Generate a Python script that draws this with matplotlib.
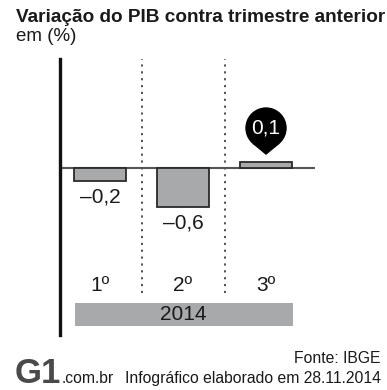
import matplotlib
matplotlib.use("Agg")
import matplotlib.pyplot as plt
from matplotlib.patches import Rectangle, Circle, Polygon
from matplotlib.transforms import ScaledTranslation

plt.rcParams['font.family'] = ['Liberation Sans', 'DejaVu Sans']

quarters = ["1º", "2º", "3º"]
pib = [-0.2, -0.6, 0.1]
labels = ["–0,2", "–0,6", "0,1"]
year = "2014"

W, H = 387, 390
fig = plt.figure(figsize=(W / 100, H / 100), dpi=100)

# chart area in pixels: x 60..315, y 59..335
ax = fig.add_axes([60 / W, 1 - 335 / H, 255 / W, 276 / H])
ax.set_xlim(-0.482, 2.59)
ax.set_ylim(-2.569, 1.677)
ax.set_xticks([])
ax.set_yticks([])
for s in ["top", "right", "bottom"]:
    ax.spines[s].set_visible(False)
ax.spines["left"].set_linewidth(2.4)
ax.spines["left"].set_color("#111111")

x = list(range(len(pib)))
ax.bar(x, pib, width=0.627, color="#a8a9ab", edgecolor="#2a2a2a",
       linewidth=1.3, zorder=3)
ax.axhline(0, color="#555555", lw=1.5, zorder=2)

# dotted separators
ax.vlines([0.5, 1.5], -1.92, 1.677, colors="#444444", lw=1.3,
          linestyles=(0, (1.2, 2.6)), zorder=1)

# value labels below negative bars
for i, v in enumerate(pib):
    if v < 0:
        ax.annotate(labels[i], (i, v), xytext=(0, -5), textcoords="offset points",
                    ha="center", va="top", fontsize=15, color="#1a1a1a")

# pin marker for the positive value
for i, v in enumerate(pib):
    if v > 0:
        tr = fig.dpi_scale_trans + ScaledTranslation(i, 0.615, ax.transData)
        ax.add_patch(Circle((0, 0), 0.2, transform=tr, color="black", zorder=5,
                            clip_on=False))
        ax.add_patch(Polygon([(-0.128, -0.154), (0.128, -0.154), (0, -0.26)],
                             closed=True, transform=tr, color="black", zorder=5,
                             clip_on=False))
        ax.annotate(labels[i], (i, 0.615), ha="center", va="center",
                    fontsize=15, color="white", zorder=6)

# quarter labels
for i, q in enumerate(quarters):
    ax.text(i, -1.8, q, ha="center", va="center", fontsize=15, color="#1a1a1a")

# year band
ax.add_patch(Rectangle((-0.301, -2.43), 2.626, 0.353, color="#a8a9ab", lw=0,
                       zorder=2))
ax.text(1, -2.253, year, ha="center", va="center", fontsize=15, color="#1a1a1a",
        zorder=3)

# titles
fig.text(16 / W, 1 - 22 / H, "Variação do PIB contra trimestre anterior",
         fontsize=13.7, fontweight="bold", color="#1a1a1a", va="baseline")
fig.text(16 / W, 1 - 41 / H, "em (%)", fontsize=13.5, color="#1a1a1a",
         va="baseline")

# footer
fig.text(381 / W, 1 - 363 / H, "Fonte: IBGE", fontsize=11.3, ha="right",
         va="baseline", color="#1a1a1a")
fig.text(381 / W, 1 - 383 / H, "Infográfico elaborado em 28.11.2014",
         fontsize=11.3, ha="right", va="baseline", color="#1a1a1a")
fig.text(62 / W, 1 - 383 / H, ".com.br", fontsize=11.3, ha="left",
         va="baseline", color="#1a1a1a")
fig.text(15 / W, 1 - 383 / H, "G1", fontsize=25, fontweight="bold",
         color="#4a4a4a", va="baseline", ha="left")

fig.savefig("out.png", dpi=100)
